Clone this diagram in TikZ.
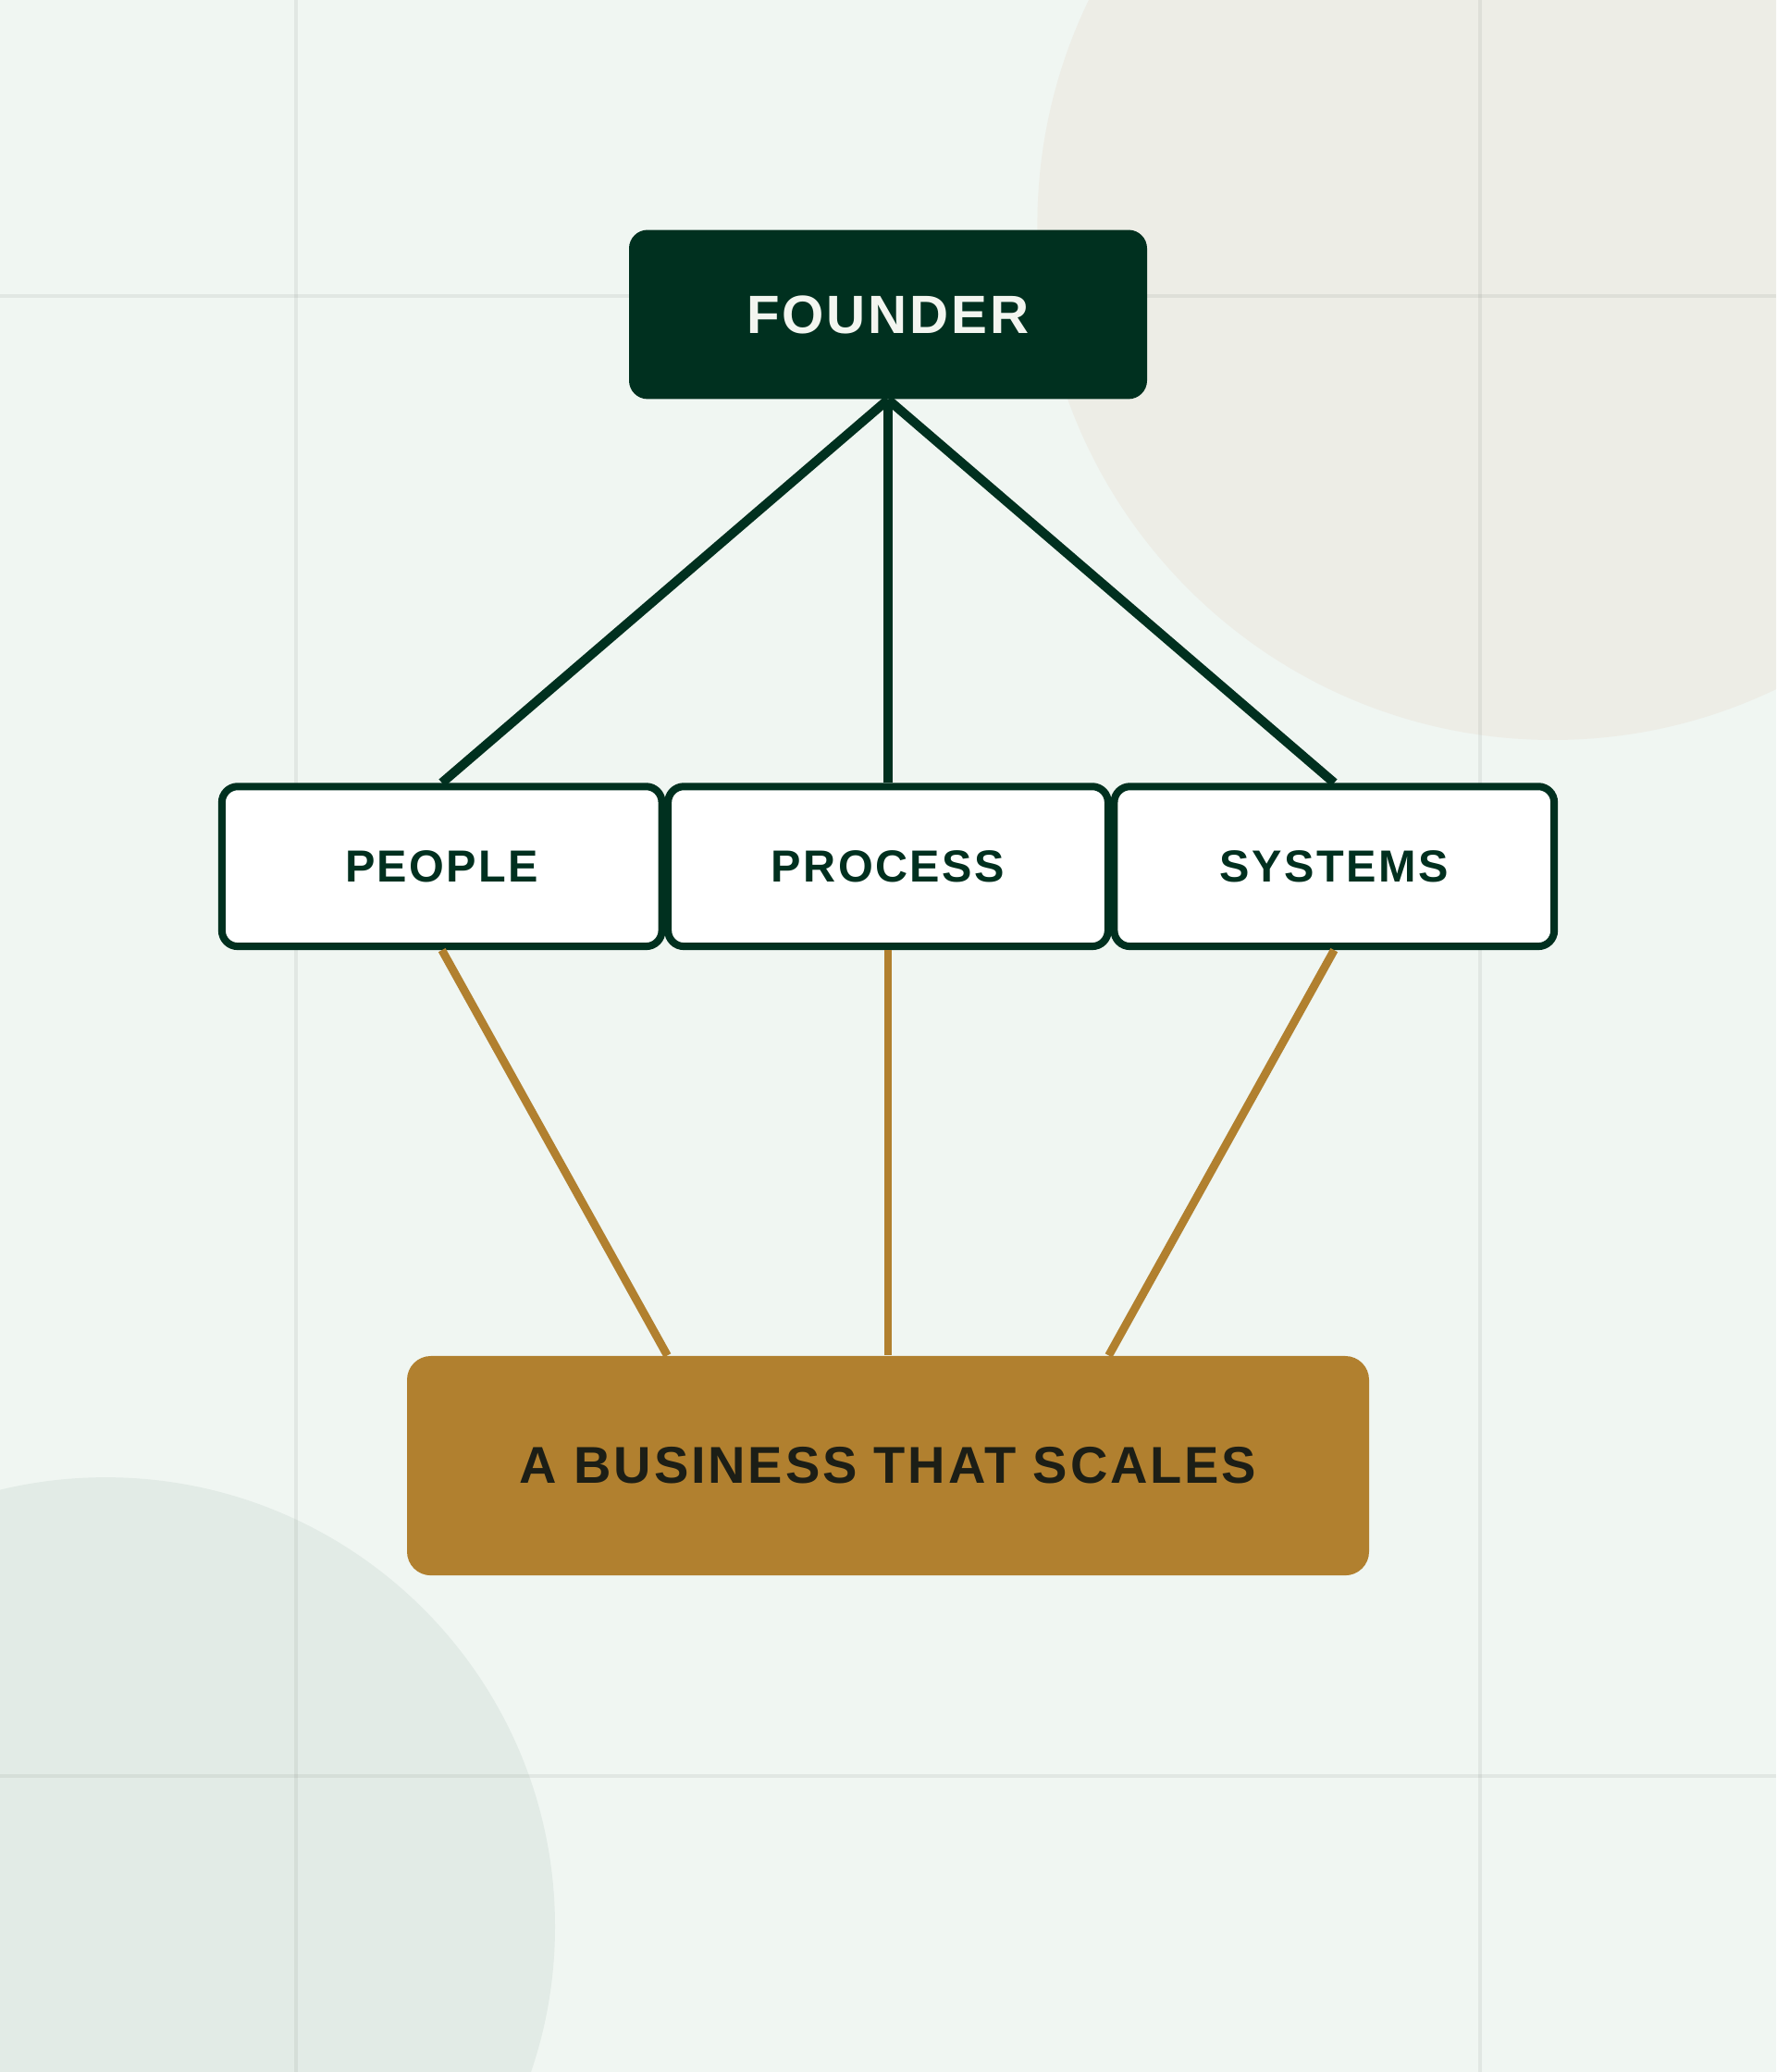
\documentclass[tikz,border=0pt]{standalone}
\usepackage{fontspec}
\setmainfont{Liberation Sans}
\newfontfamily\boxfont[LetterSpace=5]{Liberation Sans}
\usetikzlibrary{positioning,calc}
\definecolor{mint}{HTML}{F0F6F2}
\definecolor{sage}{HTML}{E2EBE6}
\definecolor{sand}{HTML}{EDEDE6}
\definecolor{rule}{HTML}{8C948E}
\definecolor{forest}{HTML}{00301F}
\definecolor{snow}{HTML}{F3F5F0}
\definecolor{gold}{HTML}{B1802F}
\definecolor{ink}{HTML}{1C1E16}

\begin{document}
\begin{tikzpicture}
        [
    basic/.style={rounded corners=7pt, text centered, inner sep=0pt},
    top/.style={basic, fill=forest, text=snow, minimum width=196pt, minimum height=64pt,
        font=\boxfont\bfseries\fontsize{20.4}{24}\selectfont},
    pillar/.style={basic, draw=forest, line width=2.8pt, fill=white, text=forest,
        rounded corners=6pt, minimum width=166.5pt, minimum height=60.5pt,
        font=\boxfont\bfseries\fontsize{17}{20}\selectfont},
    goal/.style={basic, fill=gold, text=ink, rounded corners=9pt, minimum width=364pt,
        minimum height=83pt, font=\boxfont\bfseries\fontsize{19.6}{23}\selectfont},
    link/.style={draw=forest, line width=3.5pt},
    tie/.style={draw=gold, line width=3.1pt},
    gridline/.style={draw=rule, opacity=0.15, line width=1.3pt}
    ]

    % Fondo
    \useasboundingbox (0,0) rectangle (672pt,784pt);
    \fill [mint] (0,0) rectangle (672pt,784pt);
    \begin{scope}
        \clip (0,0) rectangle (672pt,784pt);
        \fill [sand] (587.5pt,699pt) circle (195pt);
        \fill [sage] (40pt,55pt) circle (170pt);
    \end{scope}
    \foreach \g in {112,560}
        \draw [gridline] (\g pt,0) -- (\g pt,784pt);
    \foreach \g in {112,672}
        \draw [gridline] (0,\g pt) -- (672pt,\g pt);
    % Nodo superior
    \node [top] (founder) at (336pt,665pt) {FOUNDER};
    % Pilares
    \node [pillar, below=145pt of founder] (process) {PROCESS};
    \node [pillar, left=-0.5pt of process] (people) {PEOPLE};
    \node [pillar, right=-0.5pt of process] (systems) {SYSTEMS};
    \draw [link] (founder.south) -- (people.north);
    \draw [link] (founder.south) -- (process.north);
    \draw [link] (founder.south) -- (systems.north);
    % Resultado
    \node [goal, below=153.4pt of process] (business) {A BUSINESS THAT SCALES};
    \coordinate (bl) at ($(business.north)+(-83.5pt,0)$);
    \coordinate (br) at ($(business.north)+(83.5pt,0)$);
    \draw [tie] (people.south) -- (bl);
    \draw [tie] (process.south) -- (business.north);
    \draw [tie] (systems.south) -- (br);
\end{tikzpicture}
\end{document}
